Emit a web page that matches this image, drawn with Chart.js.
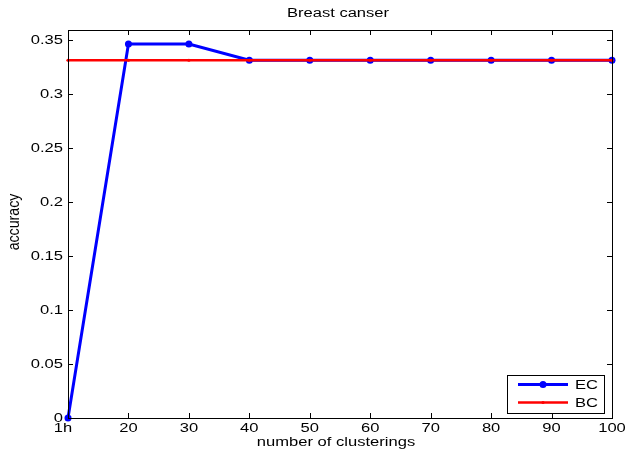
<!DOCTYPE html>
<html>
<head>
<meta charset="utf-8">
<script src="https://cdn.jsdelivr.net/npm/chart.js@4.4.0/dist/chart.umd.min.js"></script>
<style>
  html, body { margin: 0; padding: 0; background: #fff; }
  #wrap { width: 628px; height: 451px; }
</style>
</head>
<body>
<div id="wrap"><canvas id="c" width="628" height="451"></canvas></div>
<script>
// Number of clusterings on the x axis
const categories = ['1h', '20', '30', '40', '50', '60', '70', '80', '90', '100'];
// Accuracy of the ensemble clustering
const ecValues = [0, 0.346, 0.346, 0.331, 0.331, 0.331, 0.331, 0.331, 0.331, 0.331];
// Accuracy of the base clustering
const bcValues = [0.331, 0.331, 0.331, 0.331, 0.331, 0.331, 0.331, 0.331, 0.331, 0.331];
const yTicks = [0, 0.05, 0.1, 0.15, 0.2, 0.25, 0.3, 0.35];
const yTickLabels = ['0', '0.05', '0.1', '0.15', '0.2', '0.25', '0.3', '0.35'];

const FONT = '"Liberation Sans", Arial, Helvetica, sans-serif';
const SX = 1.38; // wide lettering of the exported figure

function wideText(ctx, text, x, y, align, baseline) {
  ctx.save();
  ctx.translate(x, y);
  ctx.scale(SX, 1);
  ctx.textAlign = align;
  ctx.textBaseline = baseline;
  ctx.fillText(text, 0, 0);
  ctx.restore();
}

// Box, inward tick marks, tick labels, titles and legend in the MATLAB style
const framePlugin = {
  id: 'frame',
  afterDatasetsDraw(chart) {
    const { ctx, chartArea: a, scales: { x, y } } = chart;
    ctx.save();
    ctx.strokeStyle = '#000';
    ctx.lineWidth = 1;
    const tl = 5;
    ctx.beginPath();
    categories.forEach((c, i) => {
      const px = Math.round(x.getPixelForValue(i)) + 0.5;
      ctx.moveTo(px, a.bottom); ctx.lineTo(px, a.bottom - tl);
      ctx.moveTo(px, a.top); ctx.lineTo(px, a.top + tl);
    });
    yTicks.forEach(v => {
      const py = Math.round(y.getPixelForValue(v)) + 0.5;
      ctx.moveTo(a.left, py); ctx.lineTo(a.left + tl, py);
      ctx.moveTo(a.right, py); ctx.lineTo(a.right - tl, py);
    });
    ctx.stroke();
    ctx.strokeRect(Math.round(a.left) + 0.5, Math.round(a.top) + 0.5,
                   Math.round(a.right - a.left), Math.round(a.bottom - a.top));

    ctx.fillStyle = '#000';
    ctx.font = '12px ' + FONT;

    // Tick labels
    categories.forEach((c, i) => {
      const px = x.getPixelForValue(i) + (i === 0 ? -5 : 0);
      wideText(ctx, c, px, a.bottom + 11, 'center', 'middle');
    });
    yTicks.forEach((v, i) => {
      wideText(ctx, yTickLabels[i], a.left - 5, y.getPixelForValue(v) + 0.5, 'right', 'middle');
    });

    // Title and axis titles
    const cx = (a.left + a.right) / 2 - 2;
    wideText(ctx, 'Breast canser', cx, 14, 'center', 'middle');
    wideText(ctx, 'number of clusterings', cx - 2, 443, 'center', 'middle');
    ctx.save();
    ctx.translate(14, (a.top + a.bottom) / 2 - 2);
    ctx.rotate(-Math.PI / 2);
    ctx.scale(1.18, SX);
    ctx.textAlign = 'center';
    ctx.textBaseline = 'middle';
    ctx.fillText('accuracy', 0, 0);
    ctx.restore();

    // Legend box in the lower right corner
    const lx = 507, ly = 375, lw = 97, lh = 38;
    ctx.fillStyle = '#fff';
    ctx.fillRect(lx, ly, lw, lh);
    ctx.strokeStyle = '#000';
    ctx.lineWidth = 1;
    ctx.strokeRect(lx + 0.5, ly + 0.5, lw, lh);
    const items = [
      { label: 'EC', color: '#0000ff', width: 3, r: 3.5 },
      { label: 'BC', color: '#ff0000', width: 2.5, r: 1.6 }
    ];
    items.forEach((it, i) => {
      const cy = ly + 9.5 + i * 18;
      ctx.strokeStyle = it.color;
      ctx.lineWidth = it.width;
      ctx.beginPath();
      ctx.moveTo(lx + 11, cy); ctx.lineTo(lx + 61, cy);
      ctx.stroke();
      ctx.fillStyle = it.color;
      ctx.beginPath();
      ctx.arc(lx + 36, cy, it.r, 0, Math.PI * 2);
      ctx.fill();
      ctx.fillStyle = '#000';
      ctx.font = '12px ' + FONT;
      wideText(ctx, it.label, lx + 68, cy + 1, 'left', 'middle');
    });
    ctx.restore();
  }
};

new Chart(document.getElementById('c'), {
  type: 'line',
  data: {
    labels: categories,
    datasets: [
      {
        label: 'EC',
        data: ecValues,
        borderColor: '#0000ff',
        backgroundColor: '#0000ff',
        borderWidth: 3,
        pointRadius: 3.5,
        pointBorderWidth: 0,
        tension: 0,
        clip: false,
        order: 2
      },
      {
        label: 'BC',
        data: bcValues,
        borderColor: '#ff0000',
        backgroundColor: '#ff0000',
        borderWidth: 2.5,
        pointRadius: 1.6,
        pointBorderWidth: 0,
        tension: 0,
        clip: false,
        order: 1
      }
    ]
  },
  options: {
    responsive: false,
    animation: false,
    devicePixelRatio: 1,
    layout: { padding: { left: 0, right: 16, top: 30, bottom: 0 } },
    plugins: {
      legend: { display: false },
      title: { display: false },
      tooltip: { enabled: false }
    },
    scales: {
      x: {
        type: 'category',
        offset: false,
        grid: { display: false, drawTicks: false },
        border: { display: false },
        ticks: { display: false, autoSkip: false },
        afterFit(s) { s.height = 33; }
      },
      y: {
        min: 0,
        max: 0.359,
        grid: { display: false, drawTicks: false },
        border: { display: false },
        afterBuildTicks(s) { s.ticks = yTicks.map(v => ({ value: v })); },
        ticks: { display: false },
        afterFit(s) { s.width = 68; }
      }
    }
  },
  plugins: [framePlugin]
});
</script>
</body>
</html>
